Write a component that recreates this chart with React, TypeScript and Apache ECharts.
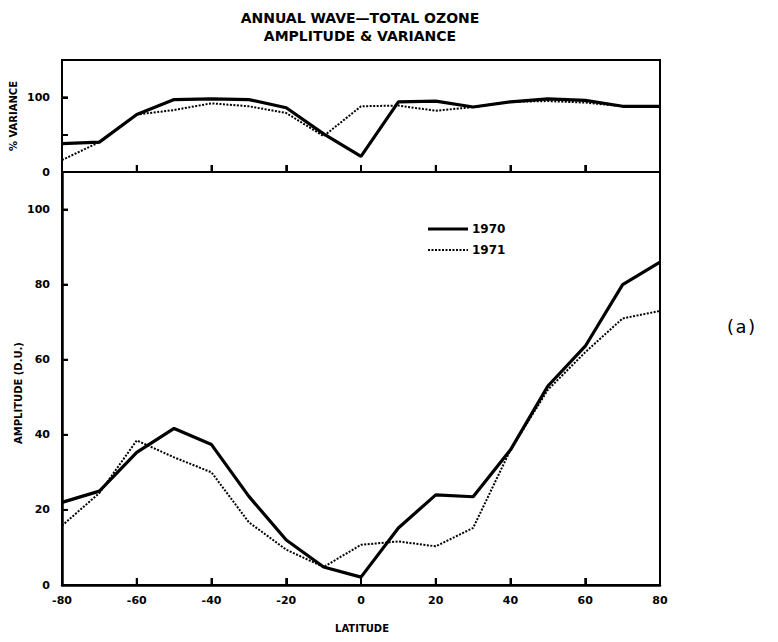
import React, { useEffect, useRef } from "react";
import * as echarts from "echarts";

const latitudes = [-80, -70, -60, -50, -40, -30, -20, -10, 0, 10, 20, 30, 40, 50, 60, 70, 80];
const variance1970 = [38, 40, 77, 97, 98, 97, 86, 51, 21, 94, 95, 87, 94, 98, 96, 88, 88];
const variance1971 = [16, 40, 77, 83, 92, 88, 79, 48, 88, 89, 82, 87, 94, 95, 93, 88, 88];
const amplitude1970 = [22, 25, 35.3, 41.7, 37.4, 23.6, 12, 4.8, 2.1, 15.2, 24, 23.5, 36, 53, 63.6, 80, 86];
const amplitude1971 = [15.8, 24.5, 38.5, 34, 30, 16.7, 9.4, 4.8, 10.7, 11.6, 10.3, 15.2, 36, 52, 62, 71, 73];
const xTicks = [-80, -60, -40, -20, 0, 20, 40, 60, 80];
const varianceTicks = [0, 100];
const amplitudeTicks = [0, 20, 40, 60, 80, 100];
const seriesNames = ["1970", "1971"];

const FONT = "'DejaVu Sans', 'Liberation Sans', sans-serif";

export default function App() {
  const ref = useRef<HTMLDivElement>(null);
  useEffect(() => {
    if (!ref.current) return;
    const chart = echarts.init(ref.current, undefined, { renderer: "svg" });
    const pairs = (ys: number[]) => latitudes.map((x, i) => [x, ys[i]]);
    const label = (ticks: number[], margin: number) => ({
      color: "#000", fontFamily: FONT, fontWeight: "bold", fontSize: 11, margin,
      formatter: (v: number) => (ticks.includes(v) ? String(v) : ""),
    });
    const makeTick = (len: number) => ({ show: true, inside: true, length: len, lineStyle: { color: "#000", width: 2 } });
    const makeLine = (w: number) => ({ show: true, onZero: false, lineStyle: { color: "#000", width: w } });
    const solid = () => ({ color: "#000", width: 3.2, type: "solid" });
    const dotted = () => ({ color: "#000", width: 2, type: [2, 1.5] });
    const innerX = xTicks.slice(1, -1);

    const texts: any[] = [
      { type: "text", x: 352, y: 10, style: { text: "ANNUAL WAVE—TOTAL OZONE", fill: "#000", font: `bold 14px ${FONT}`, align: "center", verticalAlign: "middle" } },
      { type: "text", x: 352, y: 28, style: { text: "AMPLITUDE & VARIANCE", fill: "#000", font: `bold 14px ${FONT}`, align: "center", verticalAlign: "middle" } },
      { type: "text", x: 5, y: 108, rotation: Math.PI / 2, style: { text: "% VARIANCE", fill: "#000", font: `bold 10px ${FONT}`, align: "center", verticalAlign: "middle" } },
      { type: "text", x: 10, y: 385, rotation: Math.PI / 2, style: { text: "AMPLITUDE (D.U.)", fill: "#000", font: `bold 10px ${FONT}`, align: "center", verticalAlign: "middle" } },
      { type: "text", x: 354, y: 620, style: { text: "LATITUDE", fill: "#000", font: `bold 10px ${FONT}`, align: "center", verticalAlign: "middle" } },
      { type: "text", x: 733, y: 318, style: { text: "(a)", fill: "#000", font: `18px 'DejaVu Sans Mono', monospace`, align: "center", verticalAlign: "middle" } },
      // legend
      { type: "line", shape: { x1: 420, y1: 221, x2: 460, y2: 221 }, style: { stroke: "#000", lineWidth: 3.2 } },
      { type: "line", shape: { x1: 420, y1: 242, x2: 460, y2: 242 }, style: { stroke: "#000", lineWidth: 2, lineDash: [2, 1.5] } },
      { type: "text", x: 464, y: 221, style: { text: seriesNames[0], fill: "#000", font: `bold 12px ${FONT}`, align: "left", verticalAlign: "middle" } },
      { type: "text", x: 464, y: 242, style: { text: seriesNames[1], fill: "#000", font: `bold 12px ${FONT}`, align: "left", verticalAlign: "middle" } },
    ];

    chart.setOption({
      animation: false,
      backgroundColor: "#fff",
      grid: [
        { left: 54, top: 52, width: 598, height: 112, show: true, borderColor: "#000", borderWidth: 2, backgroundColor: "transparent" },
        { left: 54, top: 164, width: 598, height: 413, show: true, borderColor: "#000", borderWidth: 2, backgroundColor: "transparent" },
      ],
      xAxis: [
        { type: "value", gridIndex: 0, min: -80, max: 80, interval: 20, axisLine: makeLine(2), axisTick: makeTick(7), axisLabel: { show: false }, splitLine: { show: false } },
        { type: "value", gridIndex: 1, min: -80, max: 80, interval: 20, axisLine: makeLine(2.5), axisTick: makeTick(7), axisLabel: label(xTicks, 10), splitLine: { show: false } },
      ],
      yAxis: [
        { type: "value", gridIndex: 0, min: 0, max: 150, interval: 50, axisLine: makeLine(2), axisTick: { ...makeTick(6), interval: (i: number, v: any) => Number(v) === 100 }, axisLabel: label(varianceTicks, 12), splitLine: { show: false } },
        { type: "value", gridIndex: 1, min: 0, max: 110, interval: 20, axisLine: makeLine(2.5), axisTick: makeTick(6), axisLabel: label(amplitudeTicks, 12), splitLine: { show: false } },
      ],
      series: [
        { name: seriesNames[0], type: "line", xAxisIndex: 0, yAxisIndex: 0, data: pairs(variance1970), symbol: "none", lineStyle: solid(), itemStyle: { color: "#000" } },
        { name: seriesNames[1], type: "line", xAxisIndex: 0, yAxisIndex: 0, data: pairs(variance1971), symbol: "none", lineStyle: dotted(), itemStyle: { color: "#000" } },
        { name: seriesNames[0], type: "line", xAxisIndex: 1, yAxisIndex: 1, data: pairs(amplitude1970), symbol: "none", lineStyle: solid(), itemStyle: { color: "#000" } },
        { name: seriesNames[1], type: "line", xAxisIndex: 1, yAxisIndex: 1, data: pairs(amplitude1971), symbol: "none", lineStyle: dotted(), itemStyle: { color: "#000" } },
      ],
      graphic: texts,
    });

    // Tick marks placed through the axes' own scales (convertToPixel), drawn on top.
    const tickEls: any[] = [];
    [0, 1].forEach((gi) => {
      innerX.forEach((v) => {
        const p = chart.convertToPixel({ gridIndex: gi }, [v, 0]) as number[];
        if (p) tickEls.push({ type: "line", z: 100, shape: { x1: p[0], y1: p[1], x2: p[0], y2: p[1] - 7 }, style: { stroke: "#000", lineWidth: 2 } });
      });
    });
    const yTickSets: [number, number[]][] = [[0, varianceTicks.slice(1)], [1, amplitudeTicks.slice(1)]];
    yTickSets.forEach(([gi, vals]) => {
      vals.forEach((v) => {
        const p = chart.convertToPixel({ gridIndex: gi }, [-80, v]) as number[];
        if (p) tickEls.push({ type: "line", z: 100, shape: { x1: p[0], y1: p[1], x2: p[0] + 6, y2: p[1] }, style: { stroke: "#000", lineWidth: 2 } });
      });
    });
    chart.setOption({ graphic: [...texts, ...tickEls] });

    return () => chart.dispose();
  }, []);
  return <div ref={ref} style={{ width: 762, height: 626 }} />;
}
